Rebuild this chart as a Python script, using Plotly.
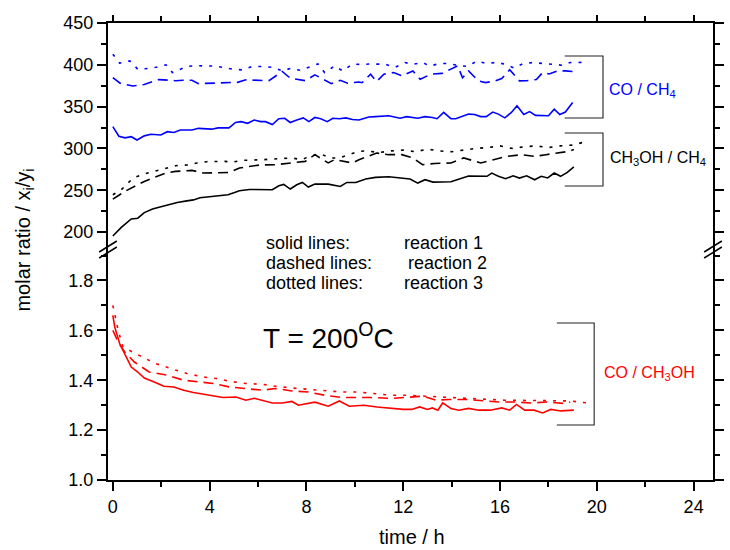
import plotly.graph_objects as go

# ---------------- data ----------------
# CO / CH4
t_co_ch4_r1 = [0, 0.25, 0.5, 0.76, 1.0, 1.3, 1.57, 1.98, 2.25, 2.52, 2.79, 3.27, 3.54, 4.08, 4.35, 4.8, 5.07, 5.3, 5.57, 5.84,
               6.11, 6.31, 6.59, 6.86, 7.1, 7.33, 7.6, 7.87, 8.1, 8.35, 8.59, 8.86, 9.09, 9.36, 9.63, 9.9, 10.17, 10.58, 10.85, 11.4,
               11.87, 12.14, 12.6, 12.9, 13.2, 13.4, 13.67, 13.97, 14.17, 14.44, 14.7, 14.95, 15.2, 15.43, 15.7, 15.93, 16.2, 16.47, 16.7, 16.98,
               17.22, 17.47, 17.76, 18.0, 18.24, 18.47, 18.7, 19.0]
v_co_ch4_r1 = [326, 314.6, 312.6, 314, 310, 315, 317, 316, 320, 319, 322, 322, 324, 323, 324.5, 324.5, 331, 332, 330, 334,
               332, 332, 328.5, 335.5, 336, 331, 334, 336.5, 332, 337, 335.5, 332, 336, 335.5, 336.5, 334.5, 334, 337.6, 338, 339,
               336, 338, 336, 338, 337, 335.5, 343, 335.5, 335.5, 338, 341, 340.5, 338, 338, 343.5, 341, 336.5, 343, 351, 340.5,
               344, 339.5, 339, 339, 347, 340.5, 343.5, 355]

t_co_ch4_r2 = [0, 0.3, 0.83, 1.3, 1.9, 2.6, 2.9, 3.27, 3.54, 4.0, 4.8, 5.15, 5.5, 5.9, 6.45, 7.0, 7.33, 7.95, 8.35, 9.03,
               9.4, 9.7, 10.17, 10.3, 10.65, 10.9, 11.2, 11.6, 11.95, 12.4, 12.7, 13.15, 13.6, 14.25, 14.45, 14.7, 15.1, 15.4, 15.8, 16.07,
               16.4, 16.8, 17.1, 17.5, 17.76, 18.03, 18.37, 18.7, 19.0]
v_co_ch4_r2 = [384.7, 378, 374.6, 376.5, 382.3, 381, 381.5, 381.5, 377.5, 378, 378, 379, 382, 381.5, 381, 392, 384, 381, 388, 377.5,
               381.5, 378, 379.5, 378.6, 388.7, 380, 388.8, 390.7, 386.7, 392.7, 382.7, 388.8, 389.7, 398.7, 384.5, 392.7, 380.8, 378.7, 380.8, 383.5,
               394, 380.8, 381, 382.4, 390.7, 389, 392.7, 392.7, 392]

t_co_ch4_r3 = [0, 0.28, 0.7, 1.03, 1.44, 1.78, 2.2, 2.46, 3.06, 3.47, 3.87, 4.21, 4.6, 4.95, 5.36, 5.77, 6.18, 6.59, 7.0, 7.33,
               7.74, 8.1, 8.48, 8.75, 9.16, 9.5, 9.9, 10.3, 10.6, 11.26, 11.67, 12.07, 12.4, 12.8, 13.1, 13.5, 13.83, 14.24, 14.65, 15.03,
               15.46, 15.87, 16.2, 16.6, 16.95, 17.36, 17.76, 18.17, 18.58, 18.9, 19.26, 19.66]
v_co_ch4_r3 = [412.7, 402, 404.7, 394.7, 395.5, 397, 400, 390.7, 398, 399, 398.5, 398.5, 396.7, 394.7, 393.9, 398, 398, 397, 392.7, 395.5,
               393.5, 397, 401, 390.7, 398.5, 392.7, 401, 400.3, 401, 400.6, 397, 402.7, 400.6, 402.7, 398.5, 401.5, 401.5, 399.5, 398, 404.3,
               401.5, 403, 400.6, 396, 401.5, 402.7, 401.5, 400.6, 399.5, 402.7, 403, 403]

# CH3OH / CH4
t_ch3oh_ch4_r1 = [0, 0.35, 0.76, 1.03, 1.3, 1.64, 1.91, 2.25, 2.66, 3.06, 3.33, 3.6, 4.15, 4.76, 5.03, 5.23, 5.64, 6.59, 6.86, 7.06,
                  7.33, 7.6, 7.83, 8.08, 8.35, 8.9, 9.4, 9.67, 10.04, 10.45, 10.85, 11.4, 12.28, 12.6, 12.9, 13.23, 13.97, 14.24, 14.7, 15.46,
                  15.66, 15.93, 16.23, 16.54, 16.8, 17.1, 17.43, 17.7, 17.97, 18.24, 18.5, 18.78, 19.05]
v_ch3oh_ch4_r1 = [195.2, 205.6, 215.6, 216.5, 223.2, 227.6, 229.5, 232.4, 235.2, 237.2, 238.4, 240.9, 242.5, 244.5, 247.2, 249.3, 250.9, 250.5, 255.3, 256.9,
                  251.4, 256.5, 259.3, 253.8, 257.3, 257.3, 254.5, 259.3, 259.3, 263.4, 265.3, 266.1, 263.4, 258.5, 262.6, 259.7, 260.1, 262.6, 267, 266.6,
                  270.5, 266.6, 263.7, 267.3, 264.5, 267.3, 262.5, 266.6, 264.6, 270.5, 266.6, 271.3, 277.8]

t_ch3oh_ch4_r2 = [0, 0.49, 1.3, 1.84, 2.18, 2.59, 3.27, 3.74, 4.28, 4.82, 5.23, 5.64, 6.05, 6.72, 7.4, 7.95, 8.35, 8.9, 9.16, 9.9,
                  10.17, 10.9, 11.4, 11.94, 12.4, 12.8, 13.3, 13.97, 14.5, 15.2, 15.73, 16.27, 16.9, 17.43, 17.9, 18.44, 18.85, 19.05]
v_ch3oh_ch4_r2 = [239.3, 248.5, 260.5, 266.5, 270.5, 272.5, 273.7, 270.5, 270.5, 271.3, 276.6, 278.5, 280.1, 280.5, 282.6, 284.5, 292.5, 282.6, 286.5, 282.6,
                  286.5, 294.5, 292.5, 292.5, 288.6, 280.5, 282, 282.6, 288.6, 282.6, 286.5, 290.4, 292.5, 290.4, 292.5, 294.6, 296.5, 298.6]

t_ch3oh_ch4_r3 = [0, 0.35, 0.83, 1.3, 1.71, 2.18, 2.59, 3.06, 3.47, 3.87, 4.62, 4.96, 5.36, 6.18, 6.59, 7.4, 7.8, 8.14, 8.55, 9.0,
                  9.36, 9.77, 10.17, 10.5, 11.0, 11.5, 12.0, 12.5, 13.0, 13.5, 14.0, 14.5, 15.0, 15.5, 16.0, 16.5, 17.0, 17.5, 18.0, 18.5,
                  19.0, 19.4]
v_ch3oh_ch4_r3 = [244.5, 250.5, 264.5, 269.4, 272.5, 276.6, 279.3, 280.1, 282.6, 284.1, 284.5, 283.6, 285.7, 286.5, 287.3, 288.6, 286.5, 290.5, 293.7, 288.6,
                  288.6, 292.5, 296.5, 297, 295, 297, 298, 296, 299, 297, 296, 298, 300, 301, 303, 300, 302, 303, 301, 303,
                  304, 307]

# CO / CH3OH
t_co_ch3oh_r1 = [0, 0.08, 0.28, 0.49, 0.76, 1.03, 1.3, 1.71, 2.11, 2.52, 2.93, 3.33, 3.74, 4.15, 4.55, 5.09, 5.5, 5.84, 6.25, 6.59,
                 7.0, 7.4, 7.67, 8.35, 8.9, 9.36, 9.77, 10.37, 10.92, 11.6, 12.0, 12.35, 12.68, 13.0, 13.2, 13.43, 13.63, 13.97, 14.3, 14.7,
                 15.12, 15.6, 16.07, 16.4, 16.68, 17.02, 17.4, 17.76, 18.1, 18.51, 19.05]
v_co_ch3oh_r1 = [1.66, 1.613, 1.547, 1.507, 1.453, 1.433, 1.409, 1.393, 1.376, 1.373, 1.36, 1.351, 1.344, 1.336, 1.331, 1.333, 1.32, 1.328, 1.317, 1.309,
                 1.309, 1.315, 1.3, 1.312, 1.296, 1.317, 1.296, 1.3, 1.293, 1.287, 1.283, 1.283, 1.293, 1.283, 1.289, 1.28, 1.309, 1.287, 1.28, 1.287,
                 1.28, 1.28, 1.289, 1.28, 1.303, 1.28, 1.28, 1.269, 1.283, 1.277, 1.28]

t_co_ch3oh_r2 = [0, 0.22, 0.49, 0.89, 1.5, 2.25, 2.93, 3.6, 4.15, 4.82, 5.5, 6.18, 6.72, 7.4, 8.08, 8.75, 9.43, 10.1, 10.8, 11.46,
                 12.14, 12.82, 13.36, 13.9, 14.58, 15.26, 15.93, 16.61, 17.29, 17.97, 18.65, 18.9]
v_co_ch3oh_r2 = [1.6, 1.553, 1.513, 1.473, 1.433, 1.42, 1.4, 1.393, 1.387, 1.373, 1.367, 1.36, 1.367, 1.357, 1.353, 1.34, 1.331, 1.331, 1.331, 1.327,
                 1.331, 1.336, 1.32, 1.323, 1.323, 1.317, 1.313, 1.313, 1.309, 1.313, 1.307, 1.313]

t_co_ch3oh_r3 = [0, 0.22, 0.42, 0.83, 1.3, 1.71, 2.39, 3.06, 3.74, 4.28, 4.82, 5.5, 6.18, 6.72, 7.4, 8.08, 8.75, 9.43, 10.1, 10.78,
                 11.46, 12.14, 12.82, 13.5, 14.18, 14.85, 15.53, 16.2, 16.88, 17.56, 18.24, 18.9, 19.6]
v_co_ch3oh_r3 = [1.70, 1.6, 1.533, 1.513, 1.487, 1.469, 1.447, 1.427, 1.413, 1.407, 1.396, 1.387, 1.384, 1.376, 1.369, 1.363, 1.36, 1.353, 1.353, 1.347,
                 1.34, 1.34, 1.336, 1.333, 1.331, 1.327, 1.323, 1.32, 1.32, 1.317, 1.32, 1.317, 1.309]

x_ticks = [0, 4, 8, 12, 16, 20, 24]
y_lower_ticks = [1.0, 1.2, 1.4, 1.6, 1.8]
y_upper_ticks = [200, 250, 300, 350, 400, 450]

# ---------------- geometry helpers ----------------
W, H = 730, 550
ML, MR, MT, MB = 108, 6, 23, 70
PW, PH = W - ML - MR, H - MT - MB
def px(x):
    return (x - ML) / PW
def py(y):
    return (H - MB - y) / PH
SPLIT = py(250)

FONT = "Arial, Liberation Sans, sans-serif"
BLUE, BLACK, RED = "#0000ff", "#000000", "#ff0000"
DASH = "10px,6px"
DOT = "3px,7px"

fig = go.Figure()

def add(t, v, color, dash, upper):
    fig.add_trace(go.Scatter(
        x=t, y=v, mode="lines",
        line=dict(color=color, width=1.6, dash=dash),
        xaxis="x2" if upper else "x", yaxis="y2" if upper else "y",
        showlegend=False, hoverinfo="skip"))

add(t_co_ch4_r1, v_co_ch4_r1, BLUE, "solid", True)
add(t_co_ch4_r2, v_co_ch4_r2, BLUE, DASH, True)
add(t_co_ch4_r3, v_co_ch4_r3, BLUE, DOT, True)
add(t_ch3oh_ch4_r1, v_ch3oh_ch4_r1, BLACK, "solid", True)
add(t_ch3oh_ch4_r2, v_ch3oh_ch4_r2, BLACK, DASH, True)
add(t_ch3oh_ch4_r3, v_ch3oh_ch4_r3, BLACK, DOT, True)
add(t_co_ch3oh_r1, v_co_ch3oh_r1, RED, "solid", False)
add(t_co_ch3oh_r2, v_co_ch3oh_r2, RED, DASH, False)
add(t_co_ch3oh_r3, v_co_ch3oh_r3, RED, DOT, False)

tickfont = dict(family=FONT, size=18, color="black")
common = dict(showline=True, linewidth=2, linecolor="black", ticks="outside",
              ticklen=9, tickwidth=1.5, tickcolor="black", showgrid=False,
              zeroline=False, tickfont=tickfont)

fig.update_layout(
    width=W, height=H,
    margin=dict(l=ML, r=MR, t=MT, b=MB),
    paper_bgcolor="white", plot_bgcolor="white",
    xaxis=dict(domain=[0, 1], anchor="y", range=[-0.2, 24.8],
               tickvals=x_ticks, ticktext=[str(v) for v in x_ticks],
               minor=dict(dtick=2, tick0=0, ticks="outside", ticklen=5, tickwidth=1.5, tickcolor="black"),
               **common),
    xaxis2=dict(domain=[0, 1], anchor="y2", side="top", matches="x", range=[-0.2, 24.8],
                tickvals=x_ticks, showticklabels=False,
                minor=dict(dtick=2, tick0=0, ticks="outside", ticklen=5, tickwidth=1.5, tickcolor="black"),
                **{**common, "ticklen": 6}),
    yaxis=dict(domain=[0, SPLIT], anchor="x", range=[1.0, 1.0 + 230 / 249.4],
               tickvals=y_lower_ticks, ticktext=["%.1f" % v for v in y_lower_ticks],
               mirror="ticks",
               minor=dict(dtick=0.1, tick0=1.0, ticks="outside", ticklen=5, tickwidth=1.5, tickcolor="black"),
               **common),
    yaxis2=dict(domain=[SPLIT, 1], anchor="x2", range=[450 - 227 / 0.836, 450],
                tickvals=y_upper_ticks, ticktext=[str(v) for v in y_upper_ticks],
                mirror="ticks",
                minor=dict(dtick=25, tick0=200, ticks="outside", ticklen=5, tickwidth=1.5, tickcolor="black"),
                **common),
)

def ann(text, x, y, size, color="black", xanchor="left", yanchor="middle", angle=0):
    fig.add_annotation(text=text, x=px(x), y=py(y), xref="paper", yref="paper",
                       showarrow=False, xanchor=xanchor, yanchor=yanchor, textangle=angle,
                       font=dict(family=FONT, size=size, color=color))

ann("CO / CH<sub>4</sub>", 616, 90, 16, BLUE)
ann("CH<sub>3</sub>OH / CH<sub>4</sub>", 617, 159, 16, BLACK)
ann("CO / CH<sub>3</sub>OH", 611, 373, 16, RED)
ann("solid lines:", 267, 243, 18)
ann("dashed lines:", 267, 263, 18)
ann("dotted lines:", 267, 283, 18)
ann("reaction 1", 407, 243, 18)
ann("reaction 2", 411, 263, 18)
ann("reaction 3", 407, 283, 18)
ann("T = 200<sup>O</sup>C", 264, 336, 28)
ann("time / h", 418, 537, 20, xanchor="center")
ann("molar ratio / x<sub>i</sub>/y<sub>i</sub>", 22, 240, 20, xanchor="center", angle=-90)

def seg(x0, y0, x1, y1, color="black", width=1.0):
    fig.add_shape(type="line", xref="paper", yref="paper",
                  x0=px(x0), y0=py(y0), x1=px(x1), y1=py(y1),
                  line=dict(color=color, width=width))

def bracket(xl, xr, yt, yb):
    fig.add_shape(type="path", xref="paper", yref="paper",
                  path="M %f,%f L %f,%f L %f,%f L %f,%f" % (px(xl), py(yt), px(xr), py(yt), px(xr), py(yb), px(xl), py(yb)),
                  line=dict(color="#222222", width=1.1))

bracket(573, 612, 56, 118)
bracket(573, 612, 133, 186)
bracket(565, 603, 323, 425)

# axis break marks
for xc in (108, 724):
    seg(xc - 9, 258, xc + 9, 247, width=1.5)
    seg(xc - 9, 252, xc + 9, 241, width=1.5)

fig.write_html("out.html", config={"displayModeBar": False},
               post_script="document.body.style.margin='0';")
